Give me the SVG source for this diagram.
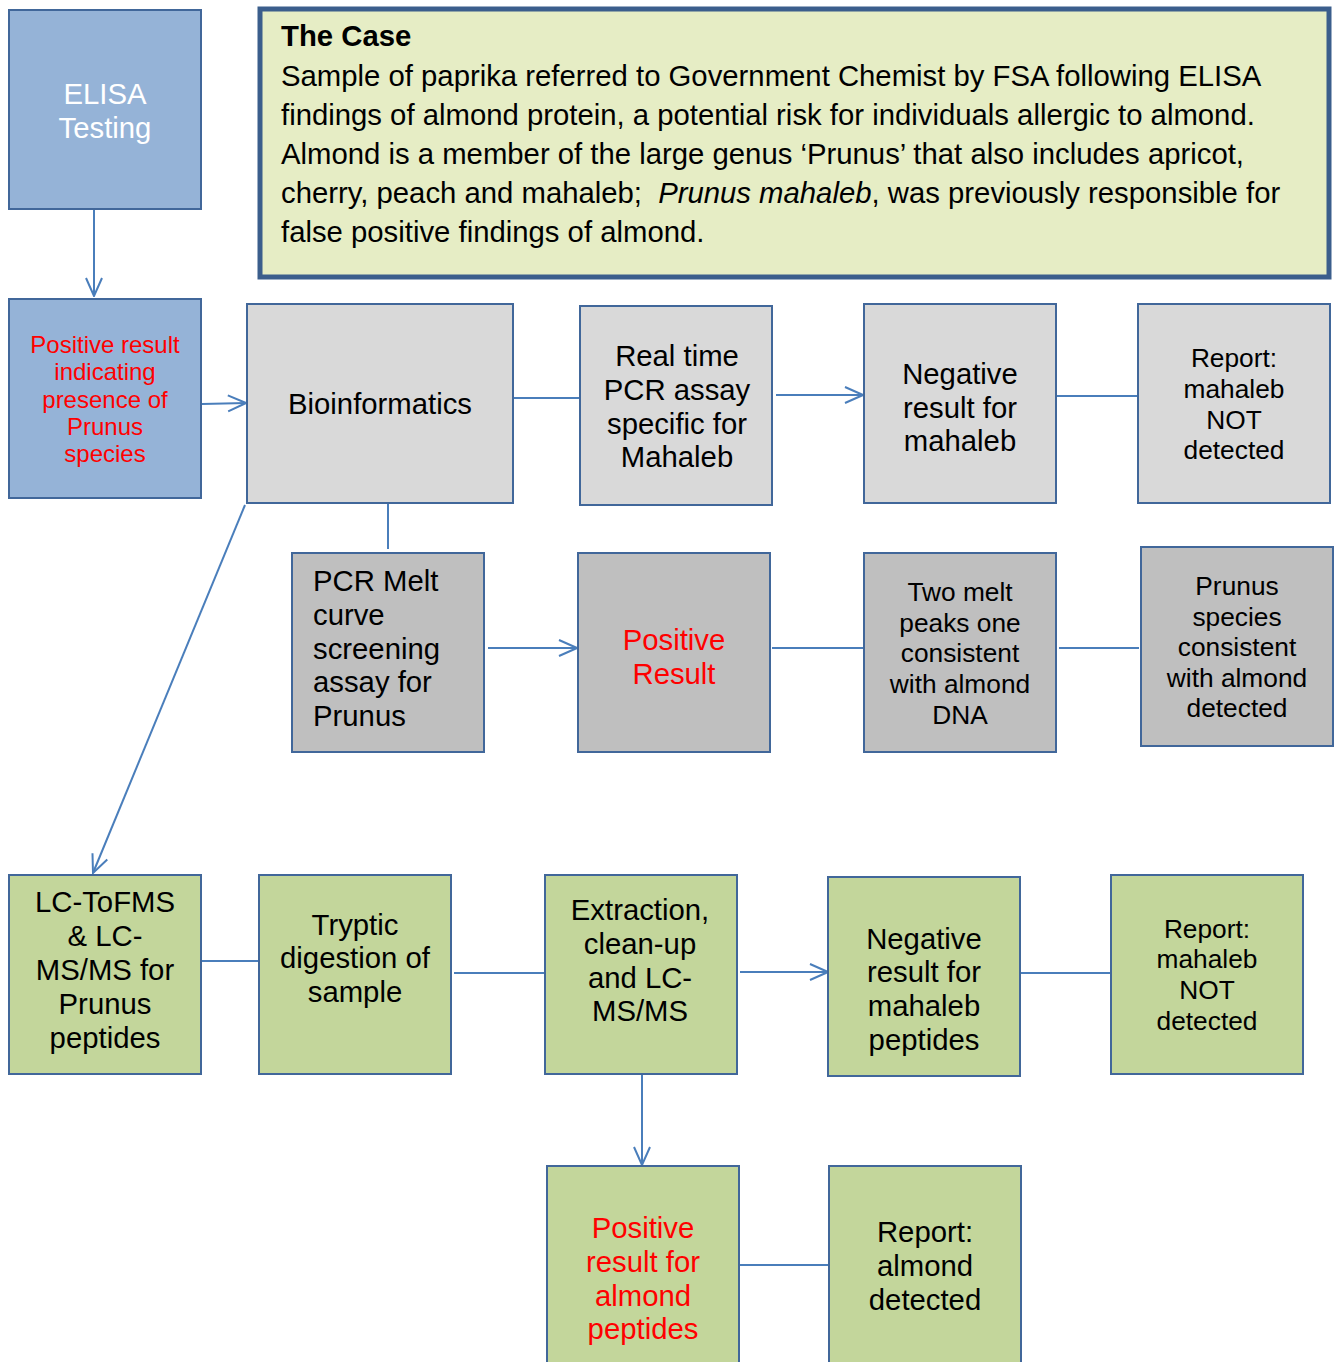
<svg xmlns="http://www.w3.org/2000/svg" width="1336" height="1362" viewBox="0 0 1336 1362">
<style>
.box{stroke:#41679A;stroke-width:2}
.blue{fill:#95B3D7}
.lg{fill:#D9D9D9}
.dg{fill:#BFBFBF}
.gr{fill:#C3D69B}
text{font-family:"Liberation Sans",Arial,sans-serif;fill:#000}
.c{text-anchor:middle}
.t28{font-size:29.3px}
.t25{font-size:26.3px}
.t23{font-size:24px}
.red{fill:#FF0000}
.white{fill:#FFFFFF}
.con{stroke:#4A7EBB;stroke-width:2;fill:none}
</style>
<defs>
<marker id="arr" viewBox="0 0 20 20" refX="19" refY="10" markerWidth="20" markerHeight="20" markerUnits="userSpaceOnUse" orient="auto">
<path d="M1,2 L19,10 L1,18" fill="none" stroke="#4A7EBB" stroke-width="2"/>
</marker>
</defs>
<rect width="1336" height="1362" fill="#FFFFFF"/>

<g id="connectors">
<line class="con" x1="94" y1="209" x2="94" y2="296" marker-end="url(#arr)"/>
<line class="con" x1="202" y1="404" x2="246" y2="403" marker-end="url(#arr)"/>
<line class="con" x1="514" y1="398" x2="580" y2="398"/>
<line class="con" x1="776" y1="395" x2="863" y2="395" marker-end="url(#arr)"/>
<line class="con" x1="1056" y1="396" x2="1138" y2="396"/>
<line class="con" x1="388" y1="504" x2="388" y2="549"/>
<line class="con" x1="488" y1="648" x2="577" y2="648" marker-end="url(#arr)"/>
<line class="con" x1="772" y1="648" x2="864" y2="648"/>
<line class="con" x1="1059" y1="648" x2="1139" y2="648"/>
<line class="con" x1="245" y1="505" x2="93" y2="873" marker-end="url(#arr)"/>
<line class="con" x1="202" y1="961" x2="259" y2="961"/>
<line class="con" x1="454" y1="973" x2="545" y2="973"/>
<line class="con" x1="740" y1="972" x2="828" y2="972" marker-end="url(#arr)"/>
<line class="con" x1="1021" y1="973" x2="1111" y2="973"/>
<line class="con" x1="642" y1="1075" x2="642" y2="1165" marker-end="url(#arr)"/>
<line class="con" x1="734" y1="1265" x2="829" y2="1265"/>
</g>

<g id="elisa">
<rect class="box blue" x="9" y="10" width="192" height="199"/>
<text class="c t28 white" x="105" y="104">ELISA</text>
<text class="c t28 white" x="105" y="138">Testing</text>
</g>

<g id="case">
<rect x="260" y="9" width="1069" height="268" fill="#E6EDC5" stroke="#3B5E8C" stroke-width="5"/>
<text x="281" y="46" style="font-size:29.3px;font-weight:bold">The Case</text>
<text x="281" y="86" class="t28">Sample of paprika referred to Government Chemist by FSA following ELISA</text>
<text x="281" y="125" class="t28">findings of almond protein, a potential risk for individuals allergic to almond.</text>
<text x="281" y="164" class="t28">Almond is a member of the large genus ‘Prunus’ that also includes apricot,</text>
<text x="281" y="203" class="t28">cherry, peach and mahaleb; <tspan dx="8" font-style="italic">Prunus mahaleb</tspan>, was previously responsible for</text>
<text x="281" y="242" class="t28">false positive findings of almond.</text>
</g>

<g id="positive-prunus">
<rect class="box blue" x="9" y="299" width="192" height="199"/>
<text class="c t23 red" x="105" y="353">Positive result</text>
<text class="c t23 red" x="105" y="380">indicating</text>
<text class="c t23 red" x="105" y="408">presence of</text>
<text class="c t23 red" x="105" y="435">Prunus</text>
<text class="c t23 red" x="105" y="462">species</text>
</g>

<g id="bioinformatics">
<rect class="box lg" x="247" y="304" width="266" height="199"/>
<text class="c t28" x="380" y="414">Bioinformatics</text>
</g>

<g id="realtime-pcr">
<rect class="box lg" x="580" y="306" width="192" height="199"/>
<text class="c t28" x="677" y="366">Real time</text>
<text class="c t28" x="677" y="400">PCR assay</text>
<text class="c t28" x="677" y="434">specific for</text>
<text class="c t28" x="677" y="467">Mahaleb</text>
</g>

<g id="negative-mahaleb">
<rect class="box lg" x="864" y="304" width="192" height="199"/>
<text class="c t28" x="960" y="384">Negative</text>
<text class="c t28" x="960" y="418">result for</text>
<text class="c t28" x="960" y="451">mahaleb</text>
</g>

<g id="report-mahaleb-1">
<rect class="box lg" x="1138" y="304" width="192" height="199"/>
<text class="c t25" x="1234" y="367">Report:</text>
<text class="c t25" x="1234" y="398">mahaleb</text>
<text class="c t25" x="1234" y="429">NOT</text>
<text class="c t25" x="1234" y="459">detected</text>
</g>

<g id="pcr-melt">
<rect class="box dg" x="292" y="553" width="192" height="199"/>
<text class="t28" x="313" y="591">PCR Melt</text>
<text class="t28" x="313" y="625">curve</text>
<text class="t28" x="313" y="659">screening</text>
<text class="t28" x="313" y="692">assay for</text>
<text class="t28" x="313" y="726">Prunus</text>
</g>

<g id="positive-result">
<rect class="box dg" x="578" y="553" width="192" height="199"/>
<text class="c t28 red" x="674" y="650">Positive</text>
<text class="c t28 red" x="674" y="684">Result</text>
</g>

<g id="two-melt-peaks">
<rect class="box dg" x="864" y="553" width="192" height="199"/>
<text class="c t25" x="960" y="601">Two melt</text>
<text class="c t25" x="960" y="632">peaks one</text>
<text class="c t25" x="960" y="662">consistent</text>
<text class="c t25" x="960" y="693">with almond</text>
<text class="c t25" x="960" y="724">DNA</text>
</g>

<g id="prunus-detected">
<rect class="box dg" x="1141" y="547" width="192" height="199"/>
<text class="c t25" x="1237" y="595">Prunus</text>
<text class="c t25" x="1237" y="626">species</text>
<text class="c t25" x="1237" y="656">consistent</text>
<text class="c t25" x="1237" y="687">with almond</text>
<text class="c t25" x="1237" y="717">detected</text>
</g>

<g id="lc-tofms">
<rect class="box gr" x="9" y="875" width="192" height="199"/>
<text class="c t28" x="105" y="912">LC-ToFMS</text>
<text class="c t28" x="105" y="946">&amp; LC-</text>
<text class="c t28" x="105" y="980">MS/MS for</text>
<text class="c t28" x="105" y="1014">Prunus</text>
<text class="c t28" x="105" y="1048">peptides</text>
</g>

<g id="tryptic">
<rect class="box gr" x="259" y="875" width="192" height="199"/>
<text class="c t28" x="355" y="935">Tryptic</text>
<text class="c t28" x="355" y="968">digestion of</text>
<text class="c t28" x="355" y="1002">sample</text>
</g>

<g id="extraction">
<rect class="box gr" x="545" y="875" width="192" height="199"/>
<text class="c t28" x="640" y="920">Extraction,</text>
<text class="c t28" x="640" y="954">clean-up</text>
<text class="c t28" x="640" y="988">and LC-</text>
<text class="c t28" x="640" y="1021">MS/MS</text>
</g>

<g id="negative-peptides">
<rect class="box gr" x="828" y="877" width="192" height="199"/>
<text class="c t28" x="924" y="949">Negative</text>
<text class="c t28" x="924" y="982">result for</text>
<text class="c t28" x="924" y="1016">mahaleb</text>
<text class="c t28" x="924" y="1050">peptides</text>
</g>

<g id="report-mahaleb-2">
<rect class="box gr" x="1111" y="875" width="192" height="199"/>
<text class="c t25" x="1207" y="938">Report:</text>
<text class="c t25" x="1207" y="968">mahaleb</text>
<text class="c t25" x="1207" y="999">NOT</text>
<text class="c t25" x="1207" y="1030">detected</text>
</g>

<g id="positive-almond">
<rect class="box gr" x="547" y="1166" width="192" height="199"/>
<text class="c t28 red" x="643" y="1238">Positive</text>
<text class="c t28 red" x="643" y="1272">result for</text>
<text class="c t28 red" x="643" y="1306">almond</text>
<text class="c t28 red" x="643" y="1339">peptides</text>
</g>

<g id="report-almond">
<rect class="box gr" x="829" y="1166" width="192" height="199"/>
<text class="c t28" x="925" y="1242">Report:</text>
<text class="c t28" x="925" y="1276">almond</text>
<text class="c t28" x="925" y="1310">detected</text>
</g>
</svg>
